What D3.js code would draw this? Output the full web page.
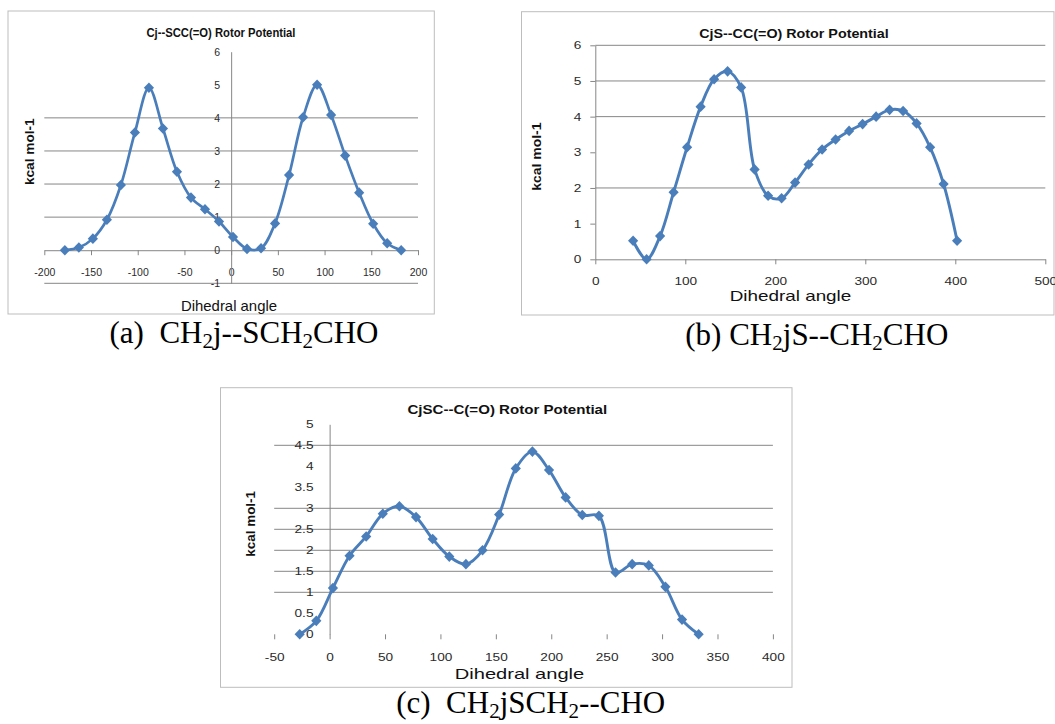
<!DOCTYPE html>
<html>
<head>
<meta charset="utf-8">
<script src="https://cdn.jsdelivr.net/npm/d3@7"></script>
<style>
  body { margin: 0; background: #fff; }
  svg { display: block; }
</style>
</head>
<body>
<svg id="fig" width="1055" height="724"></svg>
<script>
// ---- Rotor potential scans: energy (kcal/mol) against dihedral angle (deg) ----

// (a) CH2j--SCH2CHO
const anglesA = [-178, -163, -148, -133, -118, -103, -88, -73, -58, -43, -28, -13, 2, 17, 32, 47, 62, 77, 92, 107, 122, 137, 152, 167, 182];
const energyA = [0.0, 0.08, 0.35, 0.92, 1.97, 3.56, 4.91, 3.68, 2.37, 1.59, 1.24, 0.87, 0.4, 0.04, 0.06, 0.81, 2.27, 4.02, 5.0, 4.09, 2.86, 1.74, 0.8, 0.21, 0.0];
const xTicksA = [-200, -150, -100, -50, 0, 50, 100, 150, 200];
const yTicksA = [-1, 0, 1, 2, 3, 4, 5, 6];
const gridA = [-1, 1, 2, 3, 4];

// (b) CH2jS--CH2CHO
const anglesB = [42, 57, 72, 87, 102, 117, 132, 147, 162, 177, 192, 207, 222, 237, 252, 267, 282, 297, 312, 327, 342, 357, 372, 387, 402];
const energyB = [0.52, 0.0, 0.65, 1.88, 3.14, 4.28, 5.05, 5.27, 4.82, 2.52, 1.78, 1.71, 2.15, 2.66, 3.08, 3.36, 3.6, 3.79, 4.0, 4.19, 4.16, 3.81, 3.14, 2.11, 0.52];
const xTicksB = [0, 100, 200, 300, 400, 500];
const yTicksB = [0, 1, 2, 3, 4, 5, 6];
const gridB = [2, 4, 5, 6];

// (c) CH2jSCH2--CHO
const anglesC = [-27, -12, 3, 18, 33, 48, 63, 78, 93, 108, 123, 138, 153, 168, 183, 198, 213, 228, 243, 258, 273, 288, 303, 318, 333];
const energyC = [0.0, 0.32, 1.1, 1.87, 2.33, 2.87, 3.05, 2.79, 2.27, 1.85, 1.67, 2.0, 2.85, 3.95, 4.35, 3.91, 3.26, 2.84, 2.82, 1.47, 1.67, 1.64, 1.13, 0.35, 0.0];
const xTicksC = [-50, 0, 50, 100, 150, 200, 250, 300, 350, 400];
const yTicksC = [0, 0.5, 1, 1.5, 2, 2.5, 3, 3.5, 4, 4.5, 5];
const gridC = [1, 1.5, 2, 2.5, 3, 4.5];

const LINE_BLUE = "#4a7ebb";
const GRID_GREY = "#868686";
const SANS = "'Liberation Sans', Arial, sans-serif";
const SERIF = "'Liberation Serif', 'Times New Roman', serif";

const svg = d3.select("#fig");

const panels = [
  {
    title: "Cj--SCC(=O) Rotor Potential", caption: ["(a)  CH", "2", "j--SCH", "2", "CHO"],
    angles: anglesA, energy: energyA, xTicks: xTicksA, yTicks: yTicksA, grid: gridA,
    xDomain: [-200, 200], xRange: [44.3, 418], yDomain: [-1, 6], yRange: [283.3, 51.7],
    frame: [8, 11, 434.3, 314], xAxisLine: true, yTickSize: 0, yLabelRight: 220,
    xLabelY: 272.7, stretch: 1.0, lineWidth: 2.7,
    titleAt: [221, 37], titleSize: 12, titleLen: 149,
    yTitleAt: [29.5, 151.7], yTitleLen: 66.7,
    xTitleAt: [229, 311], xTitleSize: 14.5, xTitleLen: 96,
    captionAt: [244, 343]
  },
  {
    title: "CjS--CC(=O) Rotor Potential", caption: ["(b) CH", "2", "jS--CH", "2", "CHO"],
    angles: anglesB, energy: energyB, xTicks: xTicksB, yTicks: yTicksB, grid: gridB,
    xDomain: [0, 500], xRange: [595.3, 1045.3], yDomain: [0, 6], yRange: [259.3, 45.3],
    frame: [521.5, 11.7, 1054, 315], xAxisLine: true, yTickSize: 5, yLabelRight: 581.3,
    xLabelY: 281.7, stretch: 1.3, lineWidth: 2.9,
    titleAt: [794, 38], titleSize: 13, titleLen: 189.5,
    yTitleAt: [536, 156.7], yTitleLen: 68.3,
    xTitleAt: [790.5, 301], xTitleSize: 14.5, xTitleLen: 121.6,
    captionAt: [816.8, 345]
  },
  {
    title: "CjSC--C(=O) Rotor Potential", caption: ["(c)  CH", "2", "jSCH", "2", "--CHO"],
    angles: anglesC, energy: energyC, xTicks: xTicksC, yTicks: yTicksC, grid: gridC,
    xDomain: [-50, 400], xRange: [274.2, 772.9], yDomain: [0, 5], yRange: [634.3, 424.3],
    frame: [220.5, 387.7, 792, 687.3], xAxisLine: false, yTickSize: 0, yLabelRight: 313.5,
    xLabelY: 657.5, stretch: 1.3, lineWidth: 2.9,
    titleAt: [507.3, 414], titleSize: 13, titleLen: 199.8,
    yTitleAt: [250, 523.8], yTitleLen: 65.7,
    xTitleAt: [519.5, 678.5], xTitleSize: 15, xTitleLen: 129.5,
    captionAt: [530.7, 713]
  }
];

// stretch a text element horizontally by a factor, keeping its anchor
function stretchText(sel, k) {
  if (k === 1) return;
  sel.each(function () {
    const w = this.getComputedTextLength();
    d3.select(this).attr("textLength", w * k).attr("lengthAdjust", "spacingAndGlyphs");
  });
}

function drawPanel(p) {
  const g = svg.append("g");
  const x = d3.scaleLinear().domain(p.xDomain).range(p.xRange);
  const y = d3.scaleLinear().domain(p.yDomain).range(p.yRange);
  const y0 = y(0);

  // chart frame
  g.append("rect")
    .attr("x", p.frame[0]).attr("y", p.frame[1])
    .attr("width", p.frame[2] - p.frame[0]).attr("height", p.frame[3] - p.frame[1])
    .attr("fill", "#fff").attr("stroke", "#bdbdbd").attr("stroke-width", 1);

  // horizontal gridlines
  g.append("g").selectAll("line").data(p.grid).join("line")
    .attr("x1", p.xRange[0]).attr("x2", p.xRange[1])
    .attr("y1", d => y(d)).attr("y2", d => y(d))
    .attr("stroke", GRID_GREY).attr("stroke-width", 1);

  // x axis at energy = 0
  const xAxis = g.append("g").attr("transform", `translate(0,${y0})`)
    .call(d3.axisBottom(x).tickValues(p.xTicks).tickSize(5).tickSizeOuter(0).tickFormat(d3.format("d")));
  xAxis.select(".domain").attr("stroke", p.xAxisLine ? GRID_GREY : "none");
  xAxis.selectAll(".tick line").attr("stroke", GRID_GREY);
  xAxis.selectAll(".tick text")
    .attr("y", p.xLabelY - y0).attr("dy", "0.35em")
    .attr("fill", "#2b2b2b").style("font-family", SANS).style("font-size", "10.5px")
    .text(d => String(d))
    .call(stretchText, p.stretch);

  // y axis at angle = 0
  const xZero = x(0);
  const yAxis = g.append("g").attr("transform", `translate(${xZero},0)`)
    .call(d3.axisLeft(y).tickValues(p.yTicks).tickSize(p.yTickSize).tickSizeOuter(0)
      .tickPadding(xZero - p.yLabelRight - p.yTickSize).tickFormat(d => String(d)));
  yAxis.select(".domain").attr("stroke", GRID_GREY);
  yAxis.selectAll(".tick line").attr("stroke", GRID_GREY);
  yAxis.selectAll(".tick text")
    .attr("dy", "0.35em")
    .attr("fill", "#2b2b2b").style("font-family", SANS).style("font-size", "10.5px")
    .call(stretchText, p.stretch);

  // smoothed energy profile
  const pts = p.angles.map((a, i) => [a, p.energy[i]]);
  g.append("path").datum(pts)
    .attr("fill", "none").attr("stroke", LINE_BLUE)
    .attr("stroke-width", p.lineWidth).attr("stroke-linejoin", "round")
    .attr("d", d3.line().x(d => x(d[0])).y(d => y(d[1])).curve(d3.curveCatmullRom.alpha(0.5)));

  // diamond markers
  g.append("g").selectAll("path").data(pts).join("path")
    .attr("transform", d => `translate(${x(d[0])},${y(d[1])})`)
    .attr("d", "M0,-5.3L5.1,0L0,5.3L-5.1,0Z")
    .attr("fill", LINE_BLUE);

  // chart title
  g.append("text")
    .attr("x", p.titleAt[0]).attr("y", p.titleAt[1])
    .attr("text-anchor", "middle")
    .style("font-family", SANS).style("font-weight", "bold").style("font-size", p.titleSize + "px")
    .attr("fill", "#111")
    .attr("textLength", p.titleLen).attr("lengthAdjust", "spacingAndGlyphs")
    .text(p.title);

  // y axis title
  g.append("text")
    .attr("transform", `translate(${p.yTitleAt[0]},${p.yTitleAt[1]}) rotate(-90)`)
    .attr("text-anchor", "middle").attr("dy", "0.36em")
    .style("font-family", SANS).style("font-weight", "bold").style("font-size", "13px")
    .attr("fill", "#111")
    .attr("textLength", p.yTitleLen).attr("lengthAdjust", "spacingAndGlyphs")
    .text("kcal mol-1");

  // x axis title
  g.append("text")
    .attr("x", p.xTitleAt[0]).attr("y", p.xTitleAt[1])
    .attr("text-anchor", "middle")
    .style("font-family", SANS).style("font-size", p.xTitleSize + "px")
    .attr("fill", "#111")
    .attr("textLength", p.xTitleLen).attr("lengthAdjust", "spacingAndGlyphs")
    .text("Dihedral angle");

  // panel caption with subscripts
  const cap = g.append("text")
    .attr("x", p.captionAt[0]).attr("y", p.captionAt[1])
    .attr("text-anchor", "middle")
    .style("font-family", SERIF).style("font-size", "31px")
    .attr("fill", "#000")
    .attr("xml:space", "preserve");
  p.caption.forEach((s, i) => {
    const sub = i % 2 === 1;
    cap.append("tspan")
      .attr("dy", sub ? 5 : (i === 0 ? 0 : -5))
      .style("font-size", sub ? "21px" : "31px")
      .text(s);
  });
}

panels.forEach(drawPanel);
</script>
</body>
</html>
